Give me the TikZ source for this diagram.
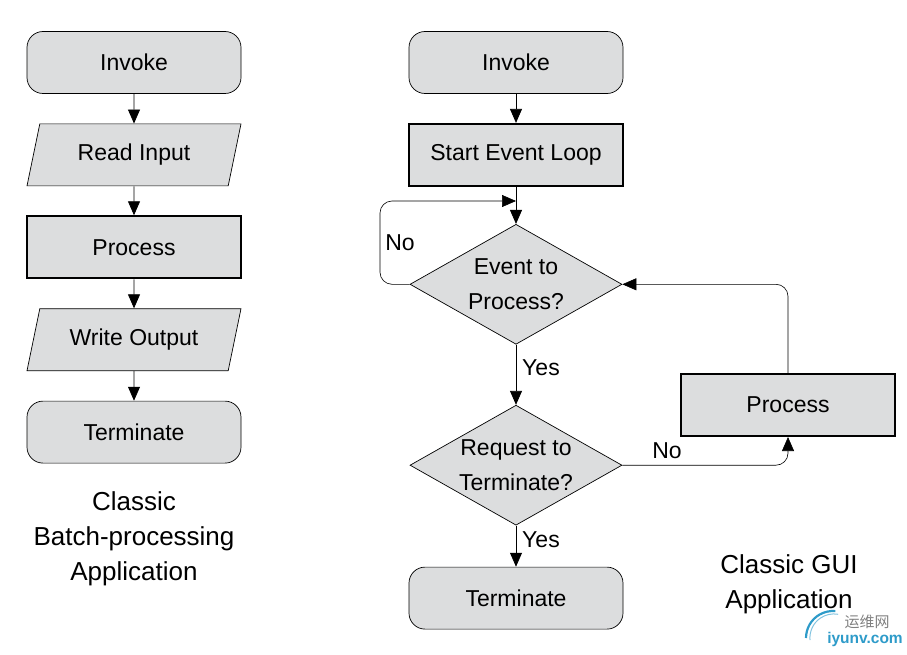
\documentclass[tikz,border=0pt]{standalone}
\usepackage{fontspec}
\setmainfont{Liberation Sans}
\newfontfamily\cjkfont{Noto Sans CJK SC}
\usetikzlibrary{shapes.geometric, arrows.meta}
\definecolor{boxgray}{HTML}{DCDDDE}
\definecolor{markblue}{HTML}{2E9BC9}
\tikzstyle{startstop} = [rectangle, rounded corners=16pt, minimum width=214pt, minimum height=62pt, text centered, draw=black, line width=0.7pt, fill=boxgray]
\tikzstyle{process} = [rectangle, minimum width=214pt, minimum height=62pt, text centered, draw=black, line width=2pt, fill=boxgray]
\tikzstyle{inout} = [trapezium, trapezium left angle=65.5, trapezium right angle=114.5, trapezium stretches body, minimum width=214pt, minimum height=62pt, text centered, draw=black, line width=0.7pt, fill=boxgray]
\tikzstyle{decision} = [diamond, aspect=1.77, inner sep=0pt, minimum width=212pt, minimum height=120pt, align=center, draw=black, line width=0.7pt, fill=boxgray]
\tikzstyle{arrow} = [line width=0.8pt,-{Triangle[width=12pt,length=14pt]}]
\tikzstyle{loopline} = [arrow, line width=0.6pt, rounded corners=12pt]
\tikzstyle{caption} = [align=center, font=\fontsize{26}{35}\selectfont]
\begin{document}
\begin{tikzpicture}[x=1pt, y=-1pt, node distance=92.4pt, font=\fontsize{23}{35}\selectfont]
\useasboundingbox (0,0) rectangle (907,655);

% batch column
\node (invokeA) [startstop] at (134,62.5) {Invoke};
\node (read) [inout, below of=invokeA] {Read Input};
\node (procA) [process, below of=read] {Process};
\node (write) [inout, below of=procA] {Write Output};
\node (termA) [startstop, below of=write] {Terminate};
\node (captionA) [caption] at (134,538.5) {Classic\\Batch-processing\\Application};

% gui column
\node (invokeB) [startstop] at (516,62.5) {Invoke};
\node (start) [process, below of=invokeB] {Start Event Loop};
\node (event) [decision, below of=start, yshift=-37pt] {Event to\\Process?};
\node (request) [decision, below of=event, yshift=-88.5pt] {Request to\\Terminate?};
\node (termB) [startstop, below of=request, yshift=-40.5pt] {Terminate};
\node (procB) [process] at (788,405) {Process};
\node (captionB) [caption] at (789,584.5) {Classic GUI\\Application};
\coordinate (loopin) at (start.south |- 0,201);

\draw [arrow] (invokeA) -- (read);
\draw [arrow] (read) -- (procA);
\draw [arrow] (procA) -- (write);
\draw [arrow] (write) -- (termA);

\draw [arrow] (invokeB) -- (start);
\draw [arrow] (start) -- (event);
\draw [loopline] (event.west) -| (380,201) -- (loopin);
\draw [arrow] (event) -- (request);
\draw [arrow] (request) -- (termB);
\draw [loopline] (request.east) -| (procB.south);
\draw [loopline] (procB.north) |- (event.east);
\node (nolabelA) at (400,243) {No};
\node (yeslabelA) at (541,368) {Yes};
\node (nolabelB) at (667,451) {No};
\node (yeslabelB) at (541,539.5) {Yes};

% watermark
\draw [markblue!60, line width=1pt] (810,640) arc (185:80:24pt);
\draw [markblue, line width=2.2pt] (806,638) arc (180:85:27pt);
\node (markcn) [font=\cjkfont\fontsize{15}{15}\selectfont, text=gray] at (867,622) {运维网};
\node (markurl) [font=\bfseries\fontsize{15.5}{15.5}\selectfont, text=markblue] at (865,639) {iyunv.com};

\end{tikzpicture}
\end{document}
